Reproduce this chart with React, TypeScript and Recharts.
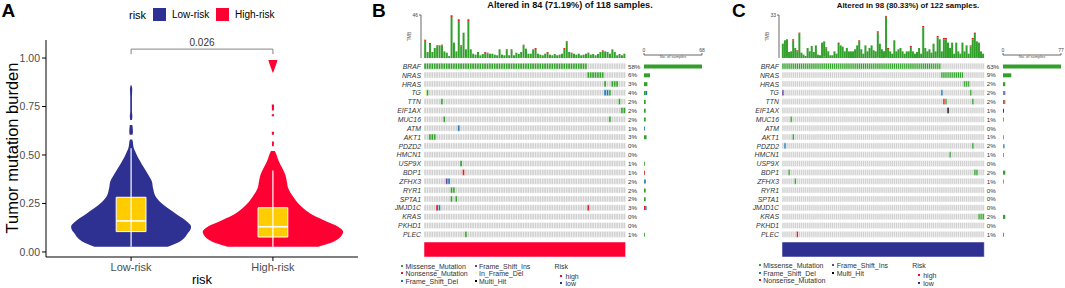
import React from "react";
import {
  ComposedChart, Area, XAxis, YAxis, ReferenceLine, ReferenceArea,
  BarChart, Bar, Cell,
} from "recharts";

const FONT = '"Liberation Sans", Arial, Helvetica, sans-serif';

// ---------- panel A : violin of tumour mutation burden ----------
const riskGroups = ["Low-risk", "High-risk"];
const riskColors = ["#2E3192", "#FF0033"];
const boxFill = "#FFCC00";
const tmbTicks = [0, 0.25, 0.5, 0.75, 1];
const pValue = "0.026";

// half widths of each violin (x units) at each TMB level, null = no density
const violinLevels = [
  0.027, 0.045, 0.062, 0.08, 0.096, 0.105, 0.13, 0.165, 0.2, 0.242,
  0.285, 0.328, 0.365, 0.4, 0.435, 0.47, 0.5, 0.52, 0.53, 0.545,
  0.57, 0.58, 0.595, 0.605, 0.62, 0.655, 0.665, 0.68, 0.7, 0.71,
  0.72, 0.73, 0.76, 0.77, 0.8, 0.84, 0.86, 0.925, 0.95, 0.975, 0.99,
];
const lowRiskWidth = [
  0.26, 0.32, 0.36, 0.385, 0.4, 0.41, 0.423, 0.38, 0.31, 0.23,
  0.174, 0.155, 0.146, 0.12, 0.09, 0.062, 0.04, 0.028, 0.022, 0.016,
  0.012, 0.008, null, 0.01, 0.013, 0.009, null, 0.006, 0.009, 0.008,
  0.006, 0.006, 0.006, 0.006, 0.006, 0.008, 0.003, null, null, null, null,
];
const highRiskWidth = [
  0.32, 0.4, 0.45, 0.48, 0.493, 0.495, 0.46, 0.355, 0.26, 0.19,
  0.143, 0.108, 0.098, 0.087, 0.064, 0.04, 0.026, 0.014, null, 0.006,
  0.007, null, null, 0.007, 0.008, null, null, null, 0.008, 0.008,
  null, 0.007, 0.008, null, null, null, null, 0.002, 0.014, 0.026, 0.032,
];
const boxStats = [
  { lo: 0.027, q1: 0.105, median: 0.16, q3: 0.282, hi: 0.535 },
  { lo: 0.027, q1: 0.077, median: 0.13, q3: 0.228, hi: 0.42 },
];

const violinRows = violinLevels.map((y, i) => {
  const a = lowRiskWidth[i];
  const b = highRiskWidth[i];
  return {
    y,
    low: a == null ? null : [1 - a, 1 + a],
    high: b == null ? null : [2 - b, 2 + b],
  };
});

// ---------- panels B / C : oncoplots ----------
type Mut = [string, number, number, string];

const mutColors: Record<string, string> = {
  mis: "#33A02C", non: "#E31A1C", del: "#1F78B4",
  ins: "#6A3D9A", ifd: "#FFFF99", multi: "#000000",
};
const mutTypes = ["mis", "non", "del", "ins", "ifd", "multi"];
const emptyCell = "#D0D0D0";

const genes = [
  "BRAF", "NRAS", "HRAS", "TG", "TTN", "EIF1AX", "MUC16", "ATM", "AKT1", "PDZD2",
  "HMCN1", "USP9X", "BDP1", "ZFHX3", "RYR1", "SPTA1", "JMJD1C", "KRAS", "PKHD1", "PLEC",
];

const pctHigh = ["58%", "6%", "3%", "4%", "2%", "2%", "2%", "1%", "3%", "0%",
  "0%", "1%", "1%", "2%", "2%", "2%", "3%", "0%", "0%", "1%"];
const pctLow = ["63%", "9%", "2%", "2%", "2%", "1%", "1%", "0%", "1%", "2%",
  "1%", "0%", "2%", "1%", "0%", "0%", "0%", "2%", "0%", "1%"];

const mutHigh: Mut[] = [
  ["BRAF", 0, 67, "mis"], ["NRAS", 68, 74, "mis"],
  ["HRAS", 75, 75, "mis"], ["HRAS", 78, 80, "mis"],
  ["TG", 0, 0, "ifd"], ["TG", 1, 1, "mis"], ["TG", 75, 76, "del"], ["TG", 77, 77, "mis"],
  ["TTN", 7, 7, "mis"], ["TTN", 81, 81, "mis"], ["EIF1AX", 82, 83, "mis"],
  ["MUC16", 8, 8, "mis"], ["MUC16", 77, 77, "mis"], ["ATM", 14, 14, "del"],
  ["AKT1", 2, 4, "mis"], ["USP9X", 15, 15, "mis"], ["BDP1", 16, 16, "non"],
  ["ZFHX3", 9, 9, "ins"], ["ZFHX3", 10, 10, "del"], ["RYR1", 11, 12, "mis"],
  ["SPTA1", 11, 11, "mis"], ["SPTA1", 13, 13, "mis"],
  ["JMJD1C", 5, 5, "non"], ["JMJD1C", 6, 6, "del"], ["JMJD1C", 68, 68, "non"],
  ["PLEC", 17, 17, "mis"],
];
const mutLow: Mut[] = [
  ["BRAF", 0, 76, "mis"], ["NRAS", 77, 87, "mis"], ["HRAS", 88, 90, "mis"],
  ["TG", 0, 0, "ins"], ["TG", 77, 77, "del"], ["TG", 91, 91, "mis"],
  ["TTN", 78, 78, "non"], ["TTN", 79, 79, "mis"], ["TTN", 92, 92, "mis"],
  ["EIF1AX", 80, 80, "multi"], ["MUC16", 4, 4, "mis"], ["AKT1", 5, 5, "mis"],
  ["PDZD2", 1, 1, "del"], ["PDZD2", 92, 92, "mis"], ["HMCN1", 81, 81, "mis"],
  ["BDP1", 3, 3, "mis"], ["BDP1", 93, 94, "mis"], ["ZFHX3", 6, 6, "mis"],
  ["KRAS", 95, 97, "mis"], ["PLEC", 7, 7, "non"],
];

// TMB per altered sample (total height), plus red tops / blue & purple bottoms
const tmbHigh = [
  19.6, 6.4, 16.1, 6.4, 10.7, 13.6, 13.6, 14.3, 7.1, 5.7,
  2.1, 45.7, 16.4, 7.1, 41.4, 13.6, 27.1, 9.3, 41.4, 9.3,
  4.6, 3.6, 6.4, 2.9, 4.3, 6.4, 5.7, 4.6, 4.6, 3.6,
  2.9, 9.3, 3.6, 2.9, 9.3, 2.9, 9.3, 2.9, 5.7, 4.3,
  6.4, 14.3, 10.0, 4.6, 4.6, 9.3, 10.7, 4.6, 3.6, 2.9,
  4.6, 6.4, 3.6, 2.9, 4.3, 2.9, 3.6, 4.6, 10.7, 17.9,
  6.4, 5.7, 4.6, 3.6, 4.6, 2.9, 3.6, 4.6, 5.7, 3.6,
  4.3, 2.9, 4.3, 6.4, 8.2, 7.1, 6.4, 4.6, 9.3, 6.4,
  2.9, 4.3, 2.9, 4.6,
];
const nonsenseHigh: [number, number][] = [
  [0, 1.2], [2, 1.1], [5, 1], [7, 1], [11, 1.8], [14, 1.8], [15, 1], [18, 1.8],
  [25, 0.9], [26, 0.9], [34, 0.9], [36, 0.9], [41, 1], [46, 1], [51, 0.9],
  [58, 1], [59, 1], [61, 0.9], [68, 0.9], [74, 0.9],
];
const delHigh: [number, number][] = [[5, 0.8], [14, 0.8], [17, 0.8], [41, 0.8], [54, 1], [76, 0.8]];
const insHigh: [number, number][] = [];

const tmbLow = [
  11.0, 13.6, 14.4, 4.6, 5.1, 14.4, 7.7, 5.9, 19.5, 4.1,
  2.6, 1.5, 7.7, 5.1, 9.2, 4.6, 9.7, 2.6, 2.1, 11.8,
  12.8, 8.2, 5.1, 2.1, 2.1, 5.1, 3.3, 11.8, 9.7, 8.7,
  5.1, 7.7, 5.1, 5.1, 5.1, 6.7, 9.7, 13.6, 6.7, 3.3,
  9.7, 5.1, 7.7, 9.7, 5.9, 5.1, 20.5, 11.0, 6.7, 5.1,
  32.3, 7.7, 5.1, 3.3, 13.6, 5.1, 6.7, 7.7, 5.1, 3.3,
  5.1, 5.1, 9.2, 5.1, 3.3, 4.6, 7.7, 3.3, 24.6, 7.7,
  5.1, 6.7, 4.1, 11.0, 5.1, 16.9, 14.4, 5.1, 15.4, 15.4,
  11.8, 7.7, 11.8, 3.3, 11.8, 5.1, 3.3, 11.8, 5.1, 9.7,
  3.3, 9.7, 15.4, 19.5, 12.8, 11.8, 5.1, 3.3,
];
const nonsenseLow: [number, number][] = [
  [5, 1], [7, 0.8], [8, 0.6], [21, 0.8], [27, 1], [37, 1], [46, 1], [50, 0.6],
  [51, 0.8], [62, 0.8], [68, 1], [75, 1], [78, 1], [79, 1], [91, 0.8], [92, 1], [93, 1],
];
const delLow: [number, number][] = [[2, 0.5], [20, 0.5], [46, 0.5], [75, 0.5], [92, 0.5], [94, 0.5]];
const insLow: [number, number][] = [[20, 0.5], [29, 0.5], [50, 0.4]];

const legendHigh = [
  [["Missense_Mutation", "mis"], ["Nonsense_Mutation", "non"], ["Frame_Shift_Del", "del"]],
  [["Frame_Shift_Ins", "ins"], ["In_Frame_Del", "ifd"], ["Multi_Hit", "multi"]],
];
const legendLow = [
  [["Missense_Mutation", "mis"], ["Frame_Shift_Del", "del"], ["Nonsense_Mutation", "non"]],
  [["Frame_Shift_Ins", "ins"], ["Multi_Hit", "multi"]],
];

const pick = (pairs: [number, number][], i: number) => {
  const p = pairs.find((q) => q[0] === i);
  return p ? p[1] : 0;
};

function Txt({ x, y, size, children, color = "#333", weight = 400, style = {} }: any) {
  return (
    <div
      style={{
        position: "absolute", left: x, top: y, transform: "translateY(-50%)",
        fontSize: size, lineHeight: 1, whiteSpace: "nowrap", color, fontWeight: weight, ...style,
      }}
    >
      {children}
    </div>
  );
}

function ViolinPanel() {
  return (
    <div style={{ position: "absolute", left: 0, top: 0, width: 362, height: 288 }}>
      <ComposedChart
        layout="vertical"
        width={362}
        height={288}
        data={violinRows}
        margin={{ top: 40, right: 4, bottom: 0, left: 0 }}
      >
        <XAxis
          type="number"
          domain={[0.4, 2.6]}
          ticks={[1, 2]}
          allowDataOverflow
          tickFormatter={(v) => riskGroups[v - 1]}
          height={31}
          tickSize={4}
          tickMargin={2}
          stroke="#000"
          tick={{ fontSize: 11, fill: "#4D4D4D" }}
          label={{ value: "risk", position: "insideBottom", offset: 4, style: { fontSize: 13, fill: "#000" } }}
        />
        <YAxis
          type="number"
          dataKey="y"
          reversed
          domain={[-0.026, 1.093]}
          ticks={tmbTicks}
          allowDataOverflow
          width={46}
          tickSize={4}
          tickMargin={2}
          stroke="#000"
          tickFormatter={(v) => v.toFixed(2)}
          tick={{ fontSize: 10.5, fill: "#4D4D4D" }}
        />
        <Area dataKey="low" name={riskGroups[0]} type="monotone" fill={riskColors[0]} fillOpacity={1}
          stroke="none" connectNulls={false} dot={false} activeDot={false} isAnimationActive={false} />
        <Area dataKey="high" name={riskGroups[1]} type="monotone" fill={riskColors[1]} fillOpacity={1}
          stroke="none" connectNulls={false} dot={false} activeDot={false} isAnimationActive={false} />
        {boxStats.map((b, i) => (
          <ReferenceLine key={`w${i}`} segment={[{ x: i + 1, y: b.lo }, { x: i + 1, y: b.hi }]}
            stroke="#fff" strokeWidth={1.2} />
        ))}
        {boxStats.map((b, i) => (
          <ReferenceArea key={`b${i}`} x1={i + 1 - 0.105} x2={i + 1 + 0.105} y1={b.q1} y2={b.q3}
            fill={boxFill} fillOpacity={1} stroke="#fff" strokeWidth={1} />
        ))}
        {boxStats.map((b, i) => (
          <ReferenceLine key={`m${i}`} segment={[{ x: i + 1 - 0.105, y: b.median }, { x: i + 1 + 0.105, y: b.median }]}
            stroke="#fff" strokeWidth={1.6} />
        ))}
        <ReferenceLine segment={[{ x: 1, y: 1.046 }, { x: 2, y: 1.046 }]} stroke="#777" strokeWidth={0.9}
          label={{ value: pValue, position: "top", offset: 3, style: { fontSize: 10, fill: "#333" } }} />
        <ReferenceLine segment={[{ x: 1, y: 1.046 }, { x: 1, y: 1.02 }]} stroke="#777" strokeWidth={0.9} />
        <ReferenceLine segment={[{ x: 2, y: 1.046 }, { x: 2, y: 1.02 }]} stroke="#777" strokeWidth={0.9} />
      </ComposedChart>
      <Txt x={1.5} y={10} size={19} color="#000" weight={700}>A</Txt>
      <Txt x={12} y={148} size={16.5} color="#000"
        style={{ transform: "translate(-50%, -50%) rotate(-90deg)" }}>Tumor mutation burden</Txt>
      <Txt x={129} y={15} size={11} color="#000">risk</Txt>
      <div style={{ position: "absolute", left: 153, top: 8, width: 13, height: 13, background: riskColors[0] }} />
      <Txt x={172} y={15} size={10} color="#000">{riskGroups[0]}</Txt>
      <div style={{ position: "absolute", left: 216, top: 8, width: 13, height: 13, background: riskColors[1] }} />
      <Txt x={235} y={15} size={10} color="#000">{riskGroups[1]}</Txt>
    </div>
  );
}

function OncoPanel(p: any) {
  const n = p.tmb.length;
  const sampleKeys = p.tmb.map((_: number, i: number) => `s${i}`);

  const matrixRows = genes.map((gene) => {
    const row: any = { gene };
    sampleKeys.forEach((k: string) => (row[k] = 1));
    return row;
  });
  const cellType = (gene: string, i: number) => {
    const m = (p.muts as Mut[]).find(([g, a, b]) => g === gene && i >= a && i <= b);
    return m ? m[3] : null;
  };
  const countRows = genes.map((gene) => {
    const row: any = { gene };
    mutTypes.forEach((t) => (row[t] = 0));
    (p.muts as Mut[]).forEach(([g, a, b, t]) => {
      if (g === gene) row[t] += b - a + 1;
    });
    return row;
  });
  const tmbRows = p.tmb.map((t: number, i: number) => {
    const non = pick(p.nonsense, i);
    const del = pick(p.del, i);
    const ins = pick(p.ins, i);
    return { i, del, ins, mis: Math.max(t - non - del - ins, 0), non };
  });

  const mw = p.x1 - p.x0;
  const leg = p.x0 - 23;

  return (
    <>
      <Txt x={p.letterX} y={10} size={19} color="#000" weight={700}>{p.letter}</Txt>
      <Txt x={p.titleX} y={5.5} size={p.titleSize} color="#111" weight={700}
        style={{ transform: "translate(-50%, -50%)" }}>{p.title}</Txt>

      {/* TMB bar plot on top */}
      <div style={{ position: "absolute", left: p.axisX - 24, top: 10 }}>
        <BarChart width={24 + (p.x1 - p.axisX) + 1} height={50} data={tmbRows}
          margin={{ top: 5, right: 1, bottom: 2, left: 0 }} barCategoryGap="7%">
          <XAxis dataKey="i" type="category" hide padding={{ left: p.x0 - p.axisX, right: 0 }} />
          <YAxis domain={[0, p.tmbMax]} ticks={[0, p.tmbMax]} width={24} tickSize={2} tickMargin={1}
            stroke="#666" tick={{ fontSize: 5, fill: "#444" }}
            label={{ value: "TMB", angle: -90, position: "insideLeft", offset: 12,
              style: { textAnchor: "middle", fontSize: 4.5, fill: "#555" } }} />
          {["del", "ins", "mis", "non"].map((t) => (
            <Bar key={t} dataKey={t} stackId="t" fill={mutColors[t]} isAnimationActive={false} />
          ))}
        </BarChart>
      </div>

      {/* mutation matrix */}
      <div style={{ position: "absolute", left: p.x0 - 60, top: 62 }}>
        <BarChart layout="vertical" width={60 + mw + 30} height={177} data={matrixRows}
          margin={{ top: 0, right: 0, bottom: 0, left: 0 }} barCategoryGap={1.2}>
          <XAxis type="number" domain={[0, n]} hide />
          <YAxis yAxisId="g" type="category" dataKey="gene" width={60} tickSize={0} tickMargin={3}
            axisLine={false} tickLine={false} interval={0}
            tick={{ fontSize: 6.9, fill: "#333", fontStyle: "italic" }} />
          <YAxis yAxisId="p" orientation="right" type="category" dataKey="gene" width={30} tickSize={0}
            tickMargin={2.4} axisLine={false} tickLine={false} interval={0}
            tickFormatter={(_: string, idx: number) => p.pct[idx]}
            tick={{ fontSize: 6.2, fill: "#333", textAnchor: "start" }} />
          {sampleKeys.map((k: string, i: number) => (
            <Bar key={k} dataKey={k} stackId="m" yAxisId="g" stroke="#fff" strokeWidth={0.45}
              isAnimationActive={false}>
              {genes.map((g) => {
                const t = cellType(g, i);
                return <Cell key={g} fill={t ? mutColors[t] : emptyCell} />;
              })}
            </Bar>
          ))}
        </BarChart>
      </div>

      {/* number of samples per gene */}
      <div style={{ position: "absolute", left: p.cx0 - 4, top: 40 }}>
        <BarChart layout="vertical" width={p.cx1 - p.cx0 + 8} height={199} data={countRows}
          margin={{ top: 3, right: 4, bottom: 0, left: 4 }} barCategoryGap="28%">
          <XAxis type="number" orientation="top" domain={[0, p.countMax]} ticks={[0, p.countMax]}
            height={12} tickSize={2} tickMargin={1} stroke="#666" tick={{ fontSize: 5, fill: "#444" }}
            label={{ value: "No. of samples", position: "bottom", offset: 0.5, style: { fontSize: 4, fill: "#555" } }} />
          <YAxis type="category" dataKey="gene" hide padding={{ top: 7, bottom: 0 }} />
          {mutTypes.map((t) => (
            <Bar key={t} dataKey={t} stackId="c" fill={mutColors[t]} isAnimationActive={false} />
          ))}
        </BarChart>
      </div>

      {/* risk annotation */}
      <div style={{ position: "absolute", left: p.x0, top: 242 }}>
        <BarChart layout="vertical" width={mw + 20} height={15} data={[{ name: "Risk", n }]}
          margin={{ top: 0, right: 0, bottom: 0, left: 0 }} barCategoryGap={0}>
          <XAxis type="number" domain={[0, n]} hide />
          <YAxis type="category" dataKey="name" orientation="right" width={20} tickSize={0} tickMargin={3}
            axisLine={false} tickLine={false} tick={{ fontSize: 6.3, fill: "#333", textAnchor: "start" }} />
          <Bar dataKey="n" fill={p.riskColor} stroke="#fff" strokeWidth={0.5} isAnimationActive={false} />
        </BarChart>
      </div>

      {/* legend */}
      {p.legend.map((col: string[][], ci: number) =>
        col.map(([label, t], ri) => (
          <React.Fragment key={`${ci}-${ri}`}>
            <div style={{
              position: "absolute", left: leg + ci * 73.5, top: p.legendY + ri * 7.4 - 1,
              width: 2, height: 2, background: mutColors[t],
            }} />
            <Txt x={leg + ci * 73.5 + 4.5} y={p.legendY + ri * 7.4} size={7}>{label}</Txt>
          </React.Fragment>
        ))
      )}
      <Txt x={p.x0 + 130.5} y={p.legendY} size={7}>Risk</Txt>
      <div style={{ position: "absolute", left: p.x0 + 136, top: p.legendY + 9.5 - 1, width: 2, height: 2, background: riskColors[1] }} />
      <Txt x={p.x0 + 141.5} y={p.legendY + 9.5} size={7}>high</Txt>
      <div style={{ position: "absolute", left: p.x0 + 136, top: p.legendY + 17.2 - 1, width: 2, height: 2, background: riskColors[0] }} />
      <Txt x={p.x0 + 141.5} y={p.legendY + 17.2} size={7}>low</Txt>
    </>
  );
}

export default function App() {
  return (
    <div style={{
      position: "absolute", left: 0, top: 0, width: 1065, height: 288,
      background: "#fff", fontFamily: FONT, overflow: "hidden",
    }}>
      <ViolinPanel />
      <OncoPanel
        letter="B" letterX={372} title="Altered in 84 (71.19%) of 118 samples." titleX={570} titleSize={9.2}
        tmb={tmbHigh} nonsense={nonsenseHigh} del={delHigh} ins={insHigh} muts={mutHigh} pct={pctHigh}
        tmbMax={46} countMax={68} axisX={421} x0={424} x1={625.6} cx0={644} cx1={702}
        riskColor={riskColors[1]} legend={legendHigh} legendY={266}
      />
      <OncoPanel
        letter="C" letterX={732} title="Altered in 98 (80.33%) of 122 samples." titleX={908} titleSize={7.9}
        tmb={tmbLow} nonsense={nonsenseLow} del={delLow} ins={insLow} muts={mutLow} pct={pctLow}
        tmbMax={33} countMax={77} axisX={779} x0={781.7} x1={984} cx0={1003} cx1={1061}
        riskColor={riskColors[0]} legend={legendLow} legendY={265.3}
      />
    </div>
  );
}
